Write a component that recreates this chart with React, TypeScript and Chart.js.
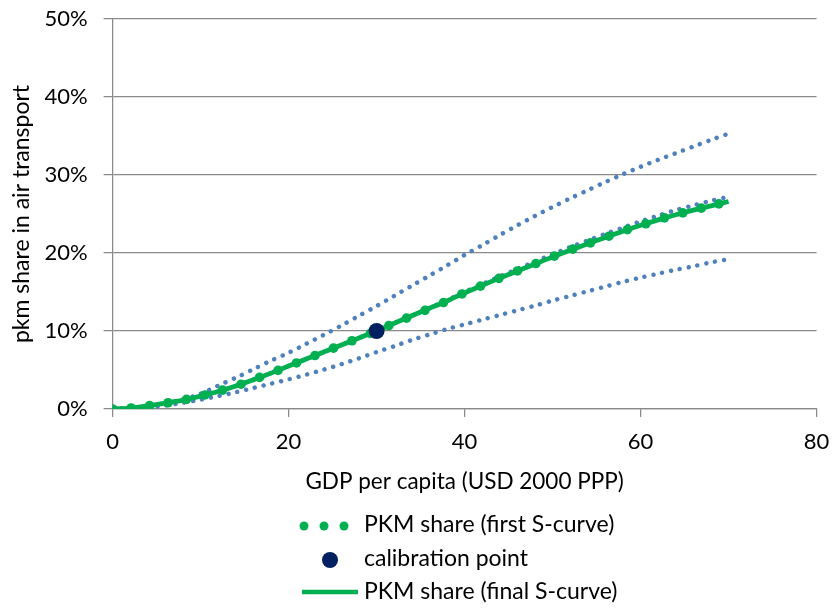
import React, { useEffect, useRef } from "react";
import { Chart, registerables } from "chart.js";

Chart.register(...registerables);

// ---- Data (values in %) ----
const curveX = [0, 2, 4, 6, 8, 10, 12, 14, 16, 18, 20, 22, 24, 26, 28, 30, 32, 34, 36, 38, 40, 42, 44, 46, 48, 50, 52, 54, 56, 58, 60, 62, 64, 66, 68, 70];

const finalSCurve = [0, 0.12, 0.4, 0.75, 1.15, 1.65, 2.25, 2.95, 3.75, 4.6, 5.5, 6.4, 7.3, 8.2, 9.1, 10.0, 11.0, 11.95, 12.9, 13.85, 14.9, 15.85, 16.8, 17.7, 18.6, 19.5, 20.35, 21.2, 22.0, 22.8, 23.55, 24.25, 24.9, 25.5, 26.05, 26.6];

const upperCurve = [0, 0.08, 0.3, 0.7, 1.25, 1.95, 3.0, 4.0, 5.1, 6.2, 7.2, 8.35, 9.5, 10.7, 11.95, 13.2, 14.5, 15.8, 17.1, 18.4, 19.75, 21.0, 22.3, 23.55, 24.75, 25.9, 27.0, 28.05, 29.1, 30.1, 31.05, 31.95, 32.8, 33.65, 34.5, 35.3];

const middleCurve = [0, 0.12, 0.4, 0.75, 1.15, 1.65, 2.25, 2.95, 3.75, 4.6, 5.5, 6.4, 7.3, 8.2, 9.1, 10.0, 11.0, 11.95, 12.95, 13.95, 15.0, 16.0, 17.0, 17.95, 18.9, 19.85, 20.75, 21.6, 22.45, 23.25, 24.05, 24.8, 25.5, 26.1, 26.7, 27.2];

const lowerCurve = [0, 0.05, 0.2, 0.45, 0.8, 1.2, 1.65, 2.15, 2.7, 3.25, 3.8, 4.4, 5.05, 5.75, 6.5, 7.3, 8.05, 8.85, 9.55, 10.25, 10.85, 11.45, 12.05, 12.65, 13.25, 13.9, 14.5, 15.1, 15.7, 16.3, 16.85, 17.35, 17.85, 18.3, 18.8, 19.2];

const firstX = [0, 2.1, 4.2, 6.3, 8.4, 10.5, 12.5, 14.6, 16.7, 18.8, 20.9, 23.0, 25.1, 27.2, 29.3, 31.4, 33.4, 35.5, 37.6, 39.7, 41.8, 43.9, 46.0, 48.1, 50.2, 52.3, 54.3, 56.4, 58.5, 60.6, 62.7, 64.8, 66.9, 68.9];
const firstSCurve = [0, 0.13, 0.43, 0.8, 1.24, 1.8, 2.42, 3.18, 4.05, 4.95, 5.9, 6.85, 7.8, 8.75, 9.7, 10.7, 11.65, 12.65, 13.65, 14.75, 15.75, 16.75, 17.7, 18.65, 19.6, 20.5, 21.3, 22.15, 23.0, 23.75, 24.5, 25.15, 25.75, 26.3];

const calibrationX = [30];
const calibrationY = [10];

const xTicks = [0, 20, 40, 60, 80];
const yTicks = [0, 10, 20, 30, 40, 50];

const labels = {
  first: "PKM share (first S-curve)",
  calib: "calibration point",
  final: "PKM share (final S-curve)",
};

const FONT = "Lato";
const GREEN = "#00b050";
const BLUE = "#4f81bd";
const NAVY = "#002060";
const GRID = "#8a8a8a";

const pts = (xs: number[], ys: number[]) => xs.map((x, i) => ({ x, y: ys[i] }));

const legendPlugin = {
  id: "customLegend",
  afterDraw(chart: any) {
    const ctx = chart.ctx as CanvasRenderingContext2D;
    ctx.save();
    ctx.font = `23px ${FONT}`;
    ctx.textBaseline = "middle";
    ctx.textAlign = "left";
    const textX = 364;
    const symX = 330;
    const rows = [525, 559, 592];
    ctx.fillStyle = GREEN;
    [-25, -5, 15].forEach((dx) => {
      ctx.beginPath();
      ctx.arc(symX + dx - 1, rows[0] + 1, 4.5, 0, Math.PI * 2);
      ctx.fill();
    });
    ctx.fillStyle = NAVY;
    ctx.beginPath();
    ctx.arc(symX, rows[1] + 1, 8, 0, Math.PI * 2);
    ctx.fill();
    ctx.strokeStyle = GREEN;
    ctx.lineWidth = 4.5;
    ctx.beginPath();
    ctx.moveTo(302, rows[2]);
    ctx.lineTo(358, rows[2]);
    ctx.stroke();
    ctx.fillStyle = "#000";
    ctx.fillText(labels.first, textX, rows[0]);
    ctx.fillText(labels.calib, textX, rows[1]);
    ctx.fillText(labels.final, textX, rows[2]);
    ctx.restore();
  },
};

export default function App() {
  const ref = useRef<HTMLCanvasElement | null>(null);

  useEffect(() => {
    if (!ref.current) return;
    const dotted = (label: string, ys: number[]) => ({
      label,
      data: pts(curveX, ys),
      borderColor: BLUE,
      backgroundColor: BLUE,
      borderWidth: 4.5,
      borderDash: [0.01, 9],
      borderCapStyle: "round" as const,
      pointRadius: 0,
      showLine: true,
      fill: false,
      tension: 0.3,
    });
    const chart = new Chart(ref.current, {
      type: "line",
      data: {
        datasets: [
          {
            label: labels.calib,
            data: pts(calibrationX, calibrationY),
            showLine: false,
            pointRadius: 8,
            pointBackgroundColor: NAVY,
            pointBorderWidth: 0,
            borderColor: NAVY,
          },
          {
            label: labels.first,
            data: pts(firstX, firstSCurve),
            showLine: false,
            pointRadius: 4.8,
            pointBackgroundColor: GREEN,
            pointBorderWidth: 0,
            borderColor: GREEN,
          },
          {
            label: labels.final,
            data: pts(curveX, finalSCurve),
            borderColor: GREEN,
            borderWidth: 4.8,
            pointRadius: 0,
            tension: 0.3,
            fill: false,
          },
          dotted("upper", upperCurve),
          dotted("middle", middleCurve),
          dotted("lower", lowerCurve),
        ],
      },
      options: {
        responsive: false,
        animation: false,
        layout: { padding: { left: 0, top: 19, right: 16.4, bottom: 109 } },
        plugins: {
          legend: { display: false },
          tooltip: { enabled: false },
        },
        scales: {
          x: {
            type: "linear",
            min: 0,
            max: 80,
            afterBuildTicks: (s: any) => {
              s.ticks = xTicks.map((v) => ({ value: v }));
            },
            afterFit: (s: any) => {
              s.height = 90;
              s.paddingLeft = 0;
              s.paddingRight = 0;
            },
            grid: {
              drawOnChartArea: false,
              drawTicks: true,
              tickLength: 8,
              color: GRID,
              lineWidth: 1.25,
            },
            border: { display: true, color: GRID, width: 1.25 },
            ticks: {
              font: { family: FONT, size: 22 },
              color: "#000",
              padding: 12,
              maxRotation: 0,
            },
            title: {
              display: true,
              text: "GDP per capita (USD 2000 PPP)",
              font: { family: FONT, size: 22.5 },
              color: "#000",
              padding: { top: 0, bottom: 4 },
            },
          },
          y: {
            type: "linear",
            min: 0,
            max: 50,
            afterBuildTicks: (s: any) => {
              s.ticks = yTicks.map((v) => ({ value: v }));
            },
            afterFit: (s: any) => {
              s.width = 112.6;
              s.paddingTop = 0;
              s.paddingBottom = 0;
            },
            grid: {
              drawTicks: true,
              tickLength: 9,
              color: GRID,
              lineWidth: 1.25,
            },
            border: { display: true, color: GRID, width: 1.25 },
            ticks: {
              font: { family: FONT, size: 22 },
              color: "#000",
              padding: 16,
              callback: (v: any) => `${v}%`,
            },
            title: {
              display: true,
              text: "pkm share in air transport",
              font: { family: FONT, size: 23 },
              color: "#000",
              padding: { top: 8, bottom: 0 },
            },
          },
        },
      },
      plugins: [legendPlugin],
    });
    return () => chart.destroy();
  }, []);

  return (
    <div style={{ position: "fixed", left: 0, top: 0, width: 833, height: 608, background: "#fff" }}>
      <canvas ref={ref} width={833} height={608} />
    </div>
  );
}
